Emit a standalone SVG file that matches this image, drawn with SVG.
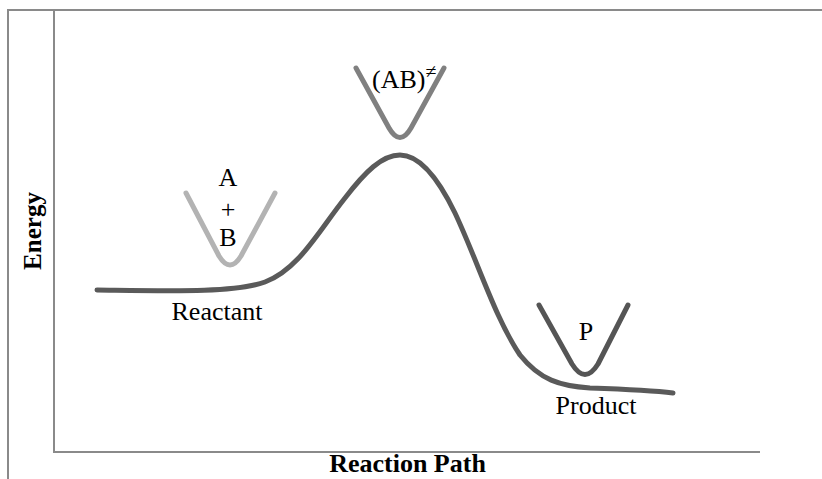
<svg xmlns="http://www.w3.org/2000/svg" width="822" height="479" viewBox="0 0 822 479">
<style>
.ax{stroke:#8a8a8a;stroke-width:2;fill:none}
.t{font-family:"Liberation Serif","Times New Roman",serif;font-size:26px;fill:#000}
.b{font-weight:bold}
.w{fill:none;stroke-width:5;stroke-linecap:round;stroke-linejoin:round}
</style>
<rect width="822" height="479" fill="#fff"/>
<g id="frame">
<path class="ax" d="M8,479 V10 H822"/>
<path class="ax" d="M54,10 V452 H760"/>
</g>
<g id="axis-labels">
<text class="t b" x="407.5" y="472" text-anchor="middle">Reaction Path</text>
<text class="t b" transform="translate(41,231) rotate(-90)" text-anchor="middle" style="font-size:25px">Energy</text>
</g>
<g id="connectors">
<path class="w" stroke="#5a5a5a" d="M97,290 C170,291 235,293 265,282 C298,270 318,232 345,198 C365,172 382,155 400,155 C420,155 438,178 455,213 C478,262 495,318 520,355 C540,380 560,386 590,388 C620,389 650,390 673,393"/>
</g>
<g id="reactant">
<path class="w" stroke="#b3b3b3" d="M186,193 L219,256 Q230,274 241,256 L275,193"/>
<text class="t" x="228" y="186" text-anchor="middle">A</text>
<text class="t" x="228" y="218" text-anchor="middle">+</text>
<text class="t" x="228" y="246" text-anchor="middle">B</text>
<text class="t" x="217" y="320" text-anchor="middle">Reactant</text>
</g>
<g id="transition-state">
<path class="w" stroke="#808080" d="M356,68 L389,128 Q400,147 411,128 L444,68"/>
<text class="t" x="372" y="88">(AB)<tspan font-size="20" dy="-10">≠</tspan></text>
</g>
<g id="product">
<path class="w" stroke="#555" d="M539,305 L572,364 Q585,385 598,364 L628,305"/>
<text class="t" x="586" y="340" text-anchor="middle">P</text>
<text class="t" x="596" y="414" text-anchor="middle">Product</text>
</g>
</svg>
